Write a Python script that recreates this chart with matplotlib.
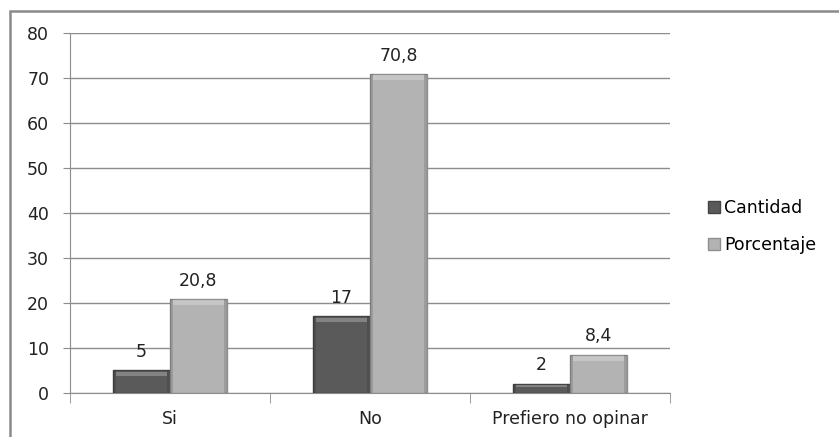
import matplotlib.pyplot as plt
import numpy as np
from matplotlib.patches import Rectangle

categories = ["Si", "No", "Prefiero no opinar"]
cantidad = [5, 17, 2]
porcentaje = [20.8, 70.8, 8.4]
series_names = ["Cantidad", "Porcentaje"]
y_ticks = [0, 10, 20, 30, 40, 50, 60, 70, 80]

plt.rcParams["font.family"] = ["DejaVu Sans"]

DARK = "#5a5a5a"
LIGHT = "#b3b3b3"
GRID = "#8c8c8c"
FS = 12.5


def fmt(v):
    return f"{v:g}".replace(".", ",")


def bevel_bars(ax, xs, vals, width, color, edge):
    bars = ax.bar(xs, vals, width, color=color, edgecolor=edge, linewidth=1.0, zorder=3)
    # light strip along the top and darker sides for a bevelled look
    for b in bars:
        h = b.get_height()
        cap = min(1.2, h * 0.3)
        ax.add_patch(Rectangle((b.get_x() + width * 0.06, h - cap), width * 0.88, cap * 0.8,
                               facecolor="white", alpha=0.25, linewidth=0, zorder=4))
        for x0 in (b.get_x(), b.get_x() + width * 0.94):
            ax.add_patch(Rectangle((x0, 0), width * 0.06, h, facecolor="black",
                                   alpha=0.12, linewidth=0, zorder=4))
    return bars


fig = plt.figure(figsize=(8.39, 4.37), dpi=100)
ax = fig.add_axes([0.0834, 0.1007, 0.7152, 0.8238])

x = np.arange(len(categories))
w = 0.285
b1 = bevel_bars(ax, x - w / 2, cantidad, w, DARK, "#444444")
b2 = bevel_bars(ax, x + w / 2, porcentaje, w, LIGHT, "#8f8f8f")

for bars, vals in ((b1, cantidad), (b2, porcentaje)):
    for b, v in zip(bars, vals):
        ax.annotate(fmt(v), (b.get_x() + b.get_width() / 2, v), xytext=(0, 7),
                    textcoords="offset points", ha="center", va="bottom",
                    fontsize=FS, color="#222222", zorder=5)

ax.set_xlim(-0.5, len(categories) - 0.5)
ax.set_ylim(0, 80)
ax.set_yticks(y_ticks)
ax.set_xticks(x)
ax.set_xticklabels(categories)
ax.set_xticks(np.arange(len(categories) + 1) - 0.5, minor=True)
ax.yaxis.grid(True, color=GRID, linewidth=1.0, zorder=0)
ax.set_axisbelow(True)

for side in ("top", "right"):
    ax.spines[side].set_visible(False)
ax.spines["left"].set_color(GRID)
ax.spines["bottom"].set_color(GRID)
ax.tick_params(axis="y", length=5, color=GRID, labelsize=FS, pad=10, labelcolor="#222222")
ax.tick_params(axis="x", which="major", length=0, labelsize=FS, pad=12, labelcolor="#222222")
ax.tick_params(axis="x", which="minor", length=7, color=GRID)

handles = [Rectangle((0, 0), 1, 1, facecolor=DARK, edgecolor="#444444"),
           Rectangle((0, 0), 1, 1, facecolor=LIGHT, edgecolor="#8f8f8f")]
fig.legend(handles, series_names, loc="center left", bbox_to_anchor=(0.825, 0.481),
           frameon=False, fontsize=FS, handlelength=0.7, handleheight=0.7,
           handletextpad=0.25, labelspacing=1.1)

# outer chart frame, cut off at the right and bottom edges
top = 1 - 11 / 437
fig.patches.append(Rectangle((10 / 839, -0.2), 1.2, top + 0.2,
                             transform=fig.transFigure, fill=False,
                             edgecolor="#8a8a8a", linewidth=1.8))

fig.savefig("out.png", dpi=100)
